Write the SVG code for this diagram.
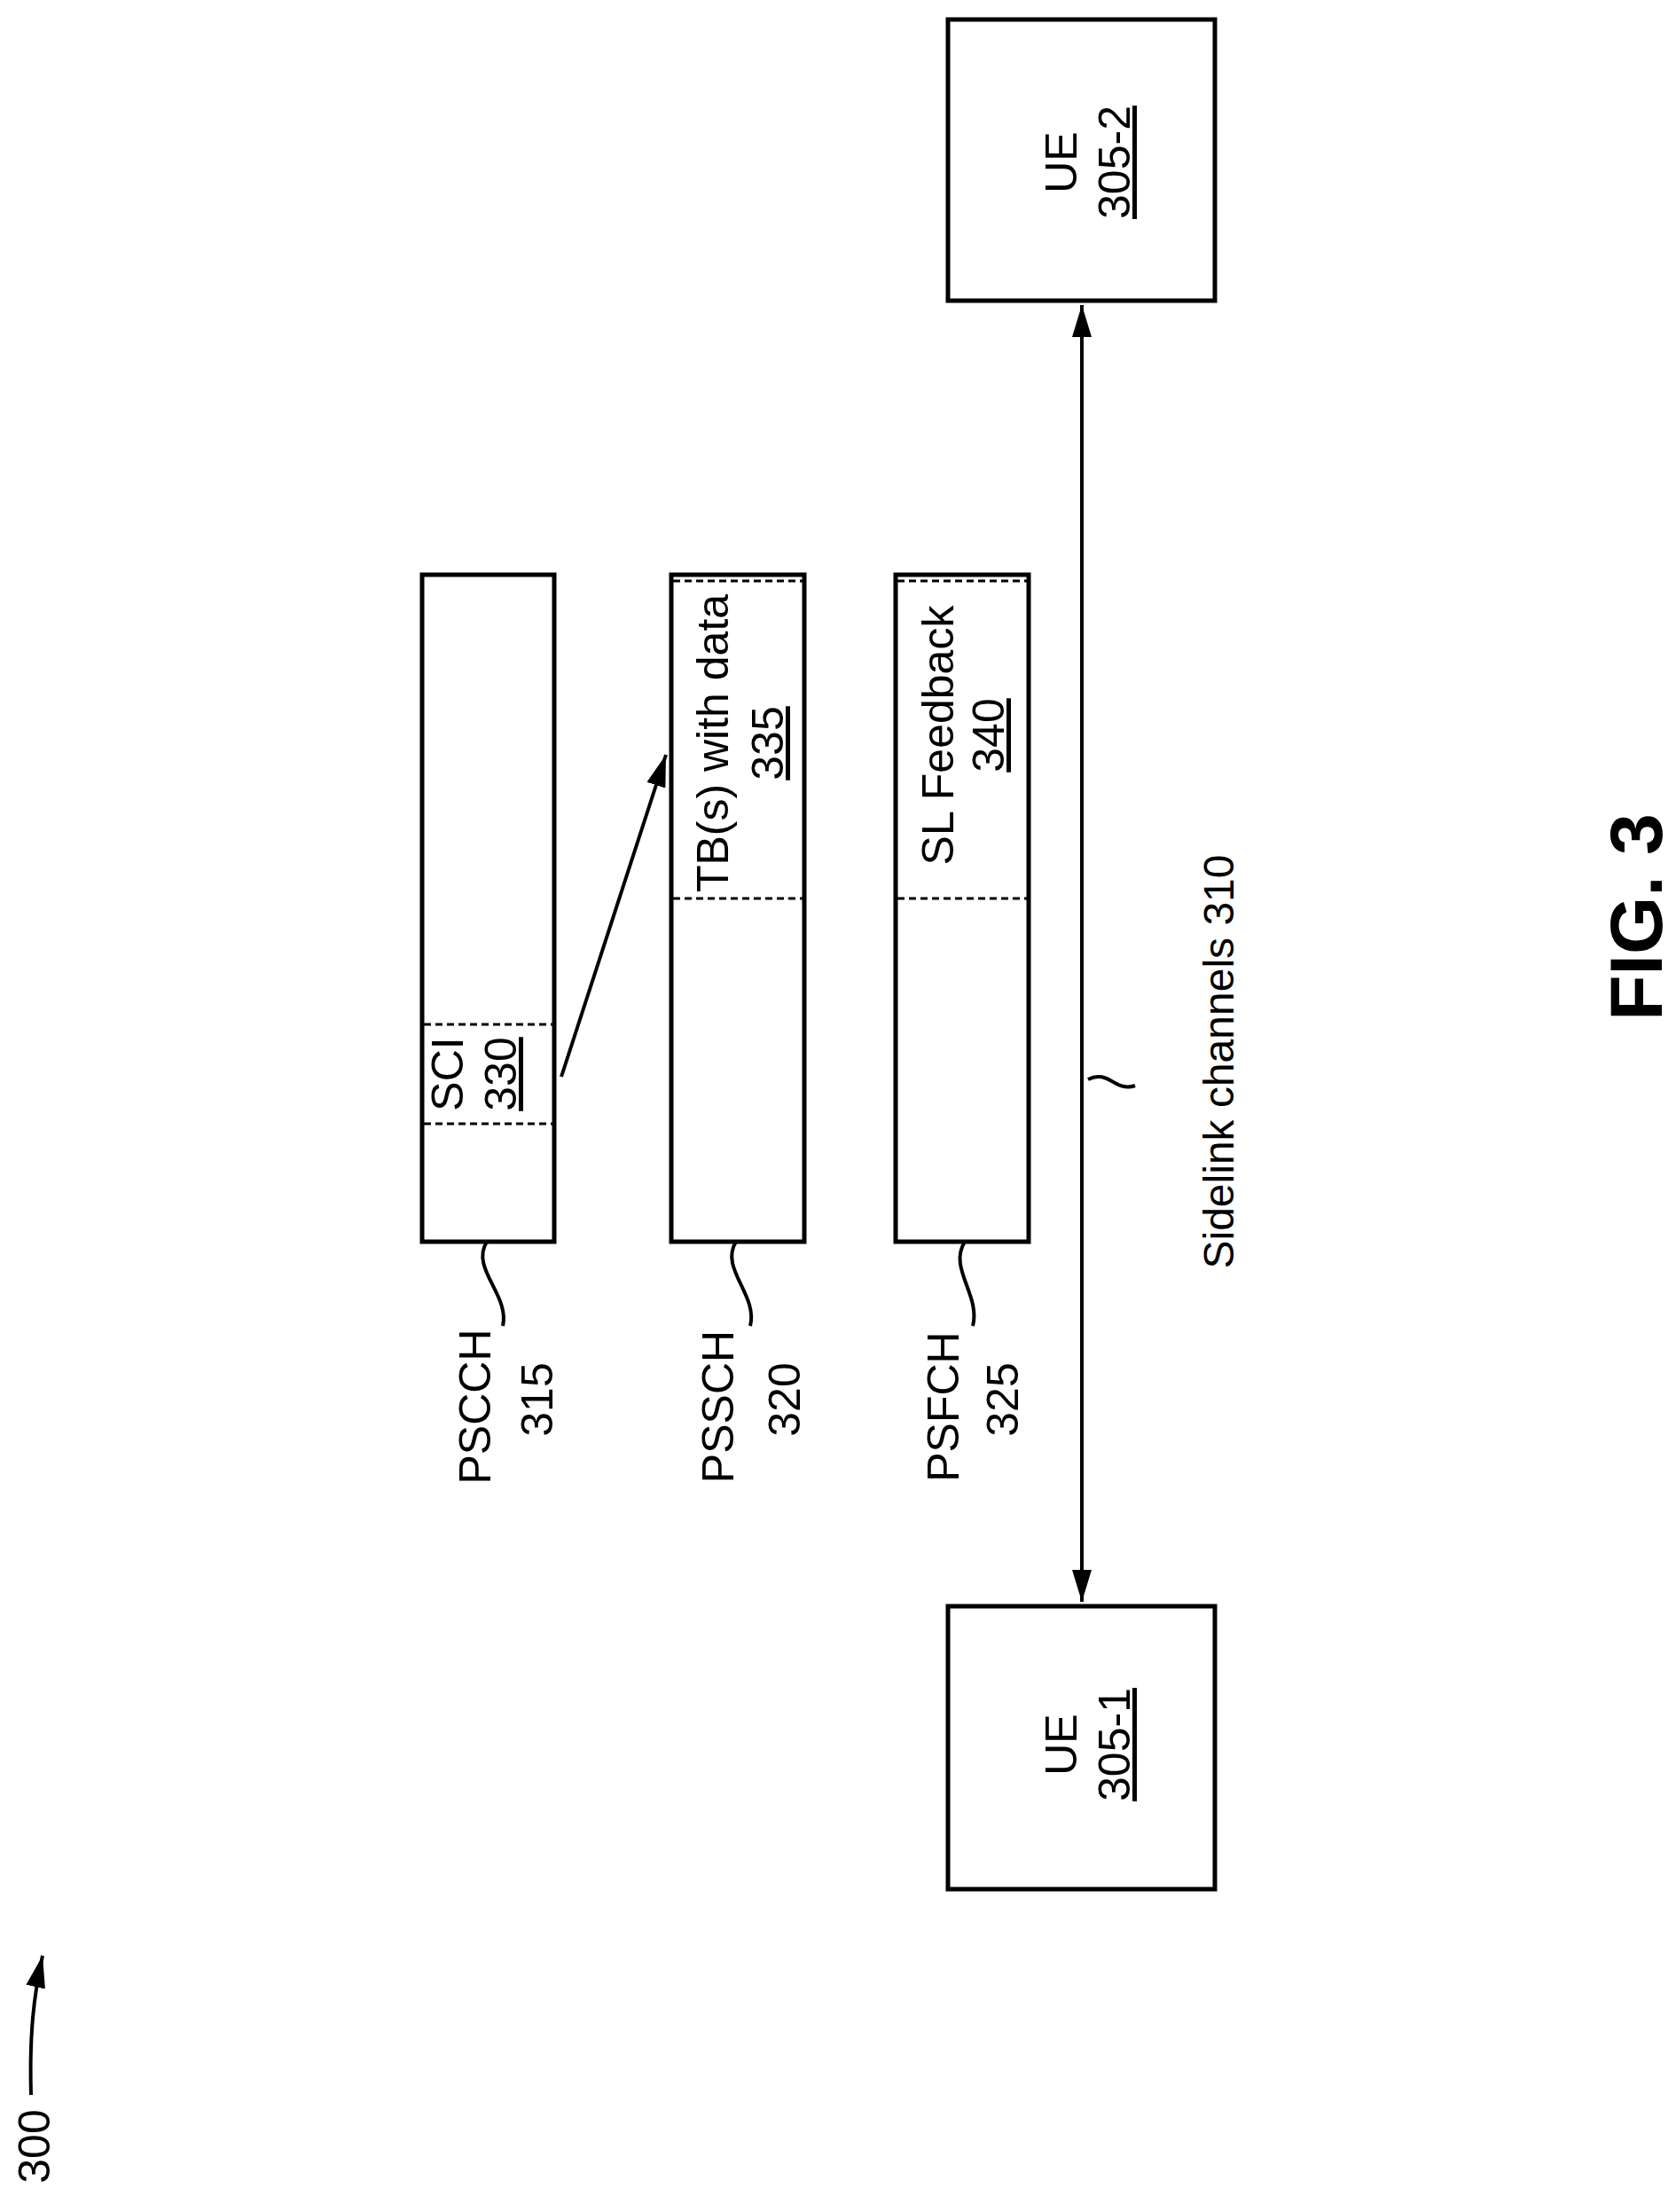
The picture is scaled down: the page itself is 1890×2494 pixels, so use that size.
<svg xmlns="http://www.w3.org/2000/svg" width="1890" height="2494" viewBox="0 0 1890 2494">
<style>
text{font-family:"Liberation Sans",Arial,sans-serif;fill:#000}
.box{fill:#fff;stroke:#000;stroke-width:5}
.dash{stroke:#000;stroke-width:3;stroke-dasharray:8 5}
.ln{fill:none;stroke:#000;stroke-width:4}
.t{font-size:50px}
</style>
<defs>
<marker id="ahb" viewBox="0 0 10 10" refX="10" refY="5" markerWidth="36" markerHeight="22" markerUnits="userSpaceOnUse" orient="auto-start-reverse" preserveAspectRatio="none">
<path d="M0,0 L10,5 L0,10 z" fill="#000"/>
</marker>
</defs>
<rect width="1890" height="2494" fill="#fff"/>
<g id="pscch">
<rect class="box" x="476" y="648" width="149" height="752"/>
<line class="dash" x1="478" y1="1155" x2="623" y2="1155"/>
<line class="dash" x1="478" y1="1267" x2="623" y2="1267"/>
<text class="t" transform="translate(522,1211) rotate(-90)" text-anchor="middle">SCI</text>
<text class="t" transform="translate(582,1211) rotate(-90)" text-anchor="middle" text-decoration="underline">330</text>
<path class="ln" d="M549,1400 C530,1430 575,1460 567,1495"/>
<text class="t" transform="translate(553,1586) rotate(-90)" text-anchor="middle">PSCCH</text>
<text class="t" transform="translate(623,1578) rotate(-90)" text-anchor="middle">315</text>
</g>
<g id="pssch">
<rect class="box" x="757" y="648" width="150" height="752"/>
<line class="dash" x1="759" y1="655" x2="905" y2="655"/>
<line class="dash" x1="759" y1="1013" x2="905" y2="1013"/>
<text class="t" transform="translate(821,838) rotate(-90)" text-anchor="middle">TB(s) with data</text>
<text class="t" transform="translate(883,838) rotate(-90)" text-anchor="middle" text-decoration="underline">335</text>
<path class="ln" d="M830,1400 C811,1430 855,1460 846,1495"/>
<text class="t" transform="translate(827,1586) rotate(-90)" text-anchor="middle">PSSCH</text>
<text class="t" transform="translate(902,1578) rotate(-90)" text-anchor="middle">320</text>
</g>
<g id="psfch">
<rect class="box" x="1010" y="648" width="150" height="752"/>
<line class="dash" x1="1012" y1="655" x2="1158" y2="655"/>
<line class="dash" x1="1012" y1="1013" x2="1158" y2="1013"/>
<text class="t" transform="translate(1075,829) rotate(-90)" text-anchor="middle">SL Feedback</text>
<text class="t" transform="translate(1132,829) rotate(-90)" text-anchor="middle" text-decoration="underline">340</text>
<path class="ln" d="M1088,1400 C1069,1430 1106,1460 1097,1495"/>
<text class="t" transform="translate(1081,1586) rotate(-90)" text-anchor="middle">PSFCH</text>
<text class="t" transform="translate(1148,1578) rotate(-90)" text-anchor="middle">325</text>
</g>
<g id="ue2">
<rect class="box" x="1069" y="22" width="301" height="317"/>
<text class="t" transform="translate(1214,183) rotate(-90)" text-anchor="middle">UE</text>
<text class="t" transform="translate(1274,183) rotate(-90)" text-anchor="middle" text-decoration="underline">305-2</text>
</g>
<g id="ue1">
<rect class="box" x="1069" y="1811" width="301" height="319"/>
<text class="t" transform="translate(1214,1967) rotate(-90)" text-anchor="middle">UE</text>
<text class="t" transform="translate(1274,1967) rotate(-90)" text-anchor="middle" text-decoration="underline">305-1</text>
</g>
<g id="connectors">
<line class="ln" x1="633" y1="1214" x2="751" y2="851" marker-end="url(#ahb)"/>
<line class="ln" x1="1220" y1="344" x2="1220" y2="1806" marker-start="url(#ahb)" marker-end="url(#ahb)"/>
<path class="ln" d="M1227,1217 C1250,1205 1258,1232 1280,1224"/>
<path class="ln" d="M35,2362 C33,2295 38,2250 48,2205" marker-end="url(#ahb)"/>
</g>
<g id="labels">
<text transform="translate(1391,1197) rotate(-90)" text-anchor="middle" font-size="48">Sidelink channels 310</text>
<text transform="translate(1874,1034) rotate(-90)" text-anchor="middle" font-size="84" font-weight="bold">FIG. 3</text>
<text transform="translate(56,2420) rotate(-90)" text-anchor="middle" font-size="50">300</text>
</g>
</svg>
